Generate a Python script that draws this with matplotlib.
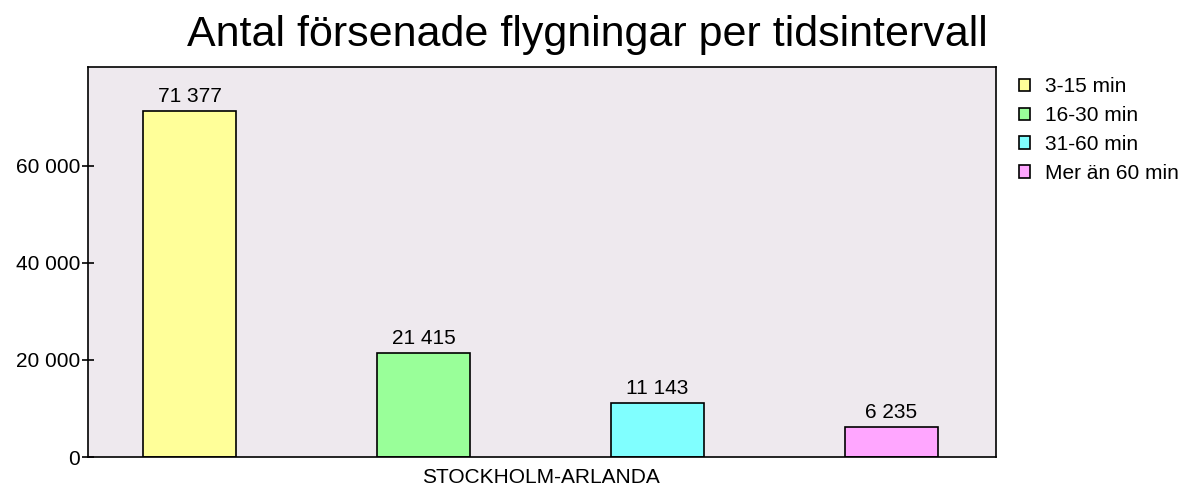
import matplotlib
matplotlib.use("Agg")
import matplotlib.pyplot as plt
from matplotlib.ticker import FuncFormatter

# data
categories = ["3-15 min", "16-30 min", "31-60 min", "Mer än 60 min"]
values = [71377, 21415, 11143, 6235]
colors = ["#FFFF99", "#99FF99", "#80FFFF", "#FFA6FF"]
airport = "STOCKHOLM-ARLANDA"
yticks = [0, 20000, 40000, 60000]

plt.rcParams["font.family"] = ["Liberation Sans", "DejaVu Sans"]


def sv_fmt(v, pos=None):
    # swedish thousands separator (space)
    return f"{int(v):,}".replace(",", " ")


fig = plt.figure(figsize=(11.86, 4.88), dpi=100)
ax = fig.add_axes([0.0742, 0.0635, 0.7656, 0.7992])
ax.set_facecolor("#EEE9EE")

x = list(range(len(values)))
bars = ax.bar(x, values, width=0.397, color=colors, edgecolor="black", linewidth=1.2,
              label=categories)
for xi, v in zip(x, values):
    ax.text(xi, v + 1000, sv_fmt(v), ha="center", va="bottom", fontsize=15)

ax.set_xlim(-0.434, 3.447)
ax.set_ylim(0, 80400)
ax.set_yticks(yticks)
ax.yaxis.set_major_formatter(FuncFormatter(sv_fmt))
ax.set_xticks([1.5])
ax.set_xticklabels([airport])
ax.tick_params(axis="x", length=0, labelsize=15, pad=8)
ax.tick_params(axis="y", direction="inout", length=9, width=1.2, labelsize=15, pad=1)
for s in ax.spines.values():
    s.set_linewidth(1.2)

fig.text(0.495, 0.928, "Antal försenade flygningar per tidsintervall", fontsize=31,
         ha="center", va="center")

ax.legend(handles=bars, labels=categories, loc="upper left", bbox_to_anchor=(1.01, 1.008),
          frameon=False, fontsize=15, handlelength=0.55, handleheight=0.55,
          handletextpad=0.7, labelspacing=0.47, borderaxespad=0.25)

fig.savefig("out.png", dpi=100)
